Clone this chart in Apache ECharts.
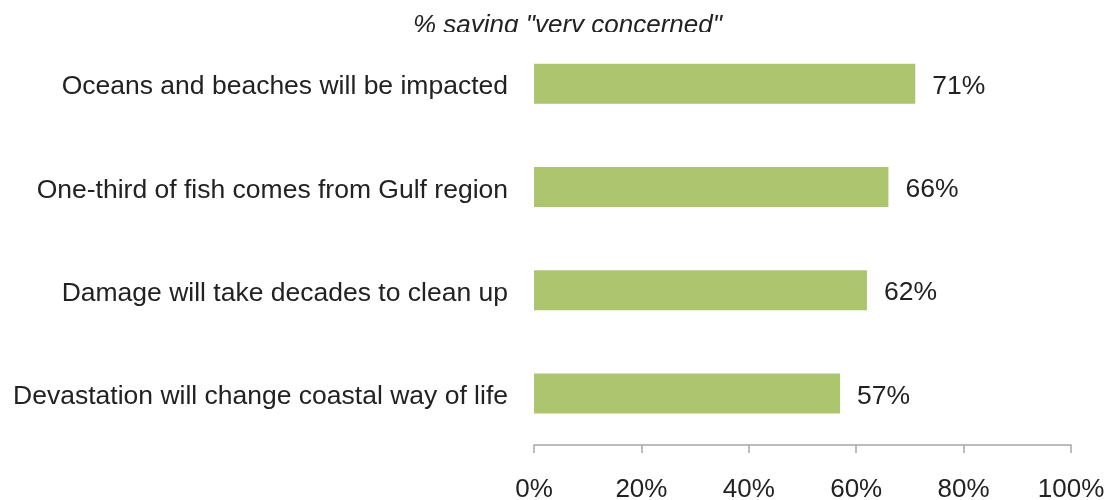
<!DOCTYPE html>
<html><head><meta charset="utf-8">
<script src="https://cdn.jsdelivr.net/npm/echarts@6/dist/echarts.min.js"></script>
<style>html,body{margin:0;padding:0;background:#fff}#c{width:1108px;height:500px}</style>
</head><body><div id="c"></div>
<script>
const categories = ["Devastation will change coastal way of life","Damage will take decades to clean up","One-third of fish comes from Gulf region","Oceans and beaches will be impacted"];
const values = [57, 62, 66, 71];
const tickValues = [0, 20, 40, 60, 80, 100];
const titleText = '% saying "very concerned"';

const chart = echarts.init(document.getElementById('c'), null, {renderer:'canvas'});
const font = 'Liberation Sans, Arial, sans-serif';
chart.setOption({
  animation:false,
  backgroundColor:'#fff',
  grid:{left:534, right:37, top:32, bottom:55, containLabel:false, outerBoundsMode:'none'},
  graphic:[
    {type:'text', left:413, top:13, z:1, style:{text:titleText, fill:'#222', font:'italic 26px '+font}},
    {type:'rect', shape:{x:0,y:32,width:1108,height:14}, style:{fill:'#fff'}, z:5}
  ],
  xAxis:{type:'value', min:0, max:100, interval:20,
    axisLine:{show:true, lineStyle:{color:'#a6a6a6', width:1.5}},
    axisTick:{show:true, length:8, lineStyle:{color:'#a6a6a6', width:1.5}},
    splitLine:{show:false},
    axisLabel:{formatter:v=>v+'%', color:'#222', fontSize:26, fontFamily:font, margin:32}},
  yAxis:{type:'category', data:categories,
    axisLine:{show:false}, axisTick:{show:false},
    axisLabel:{margin:26, formatter:v=>'{a|'+v+'}',
      rich:{a:{color:'#222', fontSize:26.5, fontFamily:font, padding:[7,0,0,0]}}}},
  series:[{type:'bar', data:values, barWidth:40, itemStyle:{color:'#adc56e'},
    label:{show:true, position:'right', distance:17, offset:[0,3], formatter:p=>p.value+'%', color:'#222', fontSize:26.5, fontFamily:font}}]
});
</script></body></html>
